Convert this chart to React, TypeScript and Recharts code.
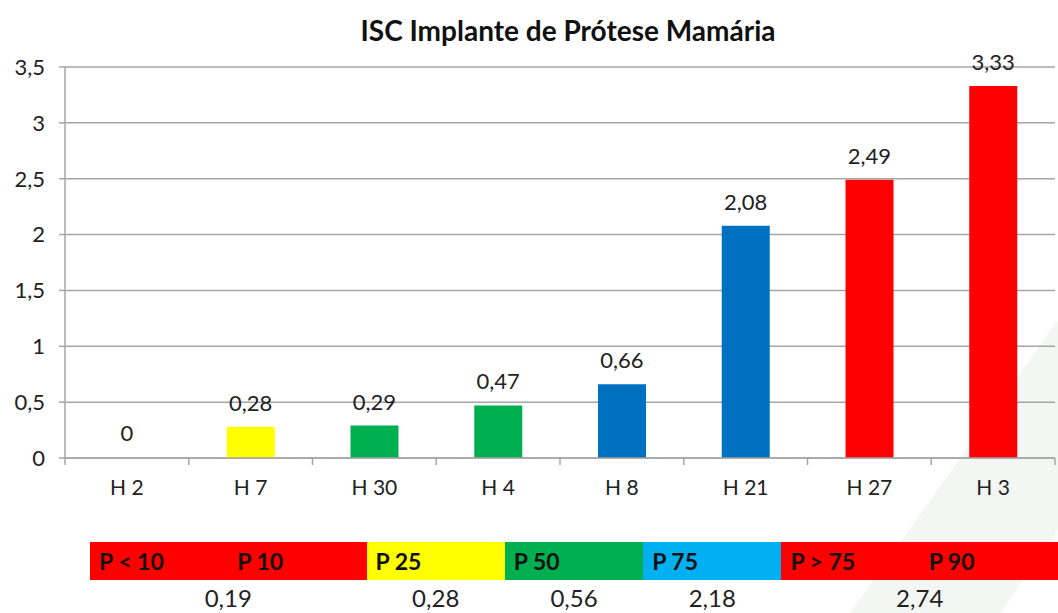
import { Bar, BarChart, CartesianGrid, Cell, LabelList, XAxis, YAxis } from "recharts";

const hospitals = ["H 2", "H 7", "H 30", "H 4", "H 8", "H 21", "H 27", "H 3"];
const rates = [0, 0.28, 0.29, 0.47, 0.66, 2.08, 2.49, 3.33];
const barColors = ["transparent", "#FFFF00", "#00B050", "#00B050", "#0070C0", "#0070C0", "#FF0000", "#FF0000"];
const yTicks = [0, 0.5, 1, 1.5, 2, 2.5, 3, 3.5];
const edgeTicks = [0, 1, 2, 3, 4, 5, 6, 7, 8];

const bandLabels = ["P < 10", "P 10", "P 25", "P 50", "P 75", "P > 75", "P 90"];
const bandColors = ["#FF0000", "#FF0000", "#FFFF00", "#00B050", "#00B0F0", "#FF0000", "#FF0000"];
const percentileKeys = ["P 10", "P 25", "P 50", "P 75", "P 90"];
const percentileValues = [0.19, 0.28, 0.56, 2.18, 2.74];

const FONT = "Lato, 'Open Sans', sans-serif";
const GRID = "#a6a6a6";
const comma = (v: number | string) => String(v).replace(".", ",");

const data = hospitals.map((name, i) => ({ name, rate: rates[i], idx: i + 0.5 }));

const STRIP_LEFT = 90;
const STRIP_W = 1058 - STRIP_LEFT;
const CELL_W = STRIP_W / bandLabels.length;

// value label drawn even for zero-height bars
const ValueLabel = (props: any) => {
  const { x, y, width, value } = props;
  if (x == null || y == null) return null;
  return (
    <text
      x={Number(x) + Number(width) / 2}
      y={Number(y) - 16}
      textAnchor="middle"
      fontSize={22}
      fill="#222"
      fontFamily={FONT}
    >
      {comma(value)}
    </text>
  );
};

export default function App() {
  return (
    <div
      style={{
        position: "absolute",
        left: 0,
        top: 0,
        width: 1058,
        height: 613,
        overflow: "hidden",
        background: "#fff",
        fontFamily: FONT,
      }}
    >
      {/* faint watermark stripes */}
      <svg width={1058} height={613} style={{ position: "absolute", left: 0, top: 0 }}>
        <polygon points="850,613 1058,320 1058,613" fill="#f3f6f3" />
        <polygon points="1000,613 1058,530 1058,613" fill="#ffffff" />
      </svg>

      <div
        style={{
          position: "absolute",
          top: 13,
          left: 0,
          width: 1136,
          textAlign: "center",
          fontSize: 28,
          fontWeight: 700,
          color: "#111",
        }}
      >
        ISC Implante de Prótese Mamária
      </div>

      <div style={{ position: "absolute", left: 0, top: 0 }}>
        <BarChart width={1058} height={520} data={data} margin={{ top: 67, right: 3, left: 0, bottom: 12 }}>
          <CartesianGrid horizontal vertical={false} stroke={GRID} strokeWidth={1.5} />
          <YAxis
            domain={[0, 3.5]}
            ticks={yTicks}
            width={65}
            tickFormatter={comma}
            tick={{ fontSize: 22, fill: "#222", fontFamily: FONT }}
            stroke={GRID}
            strokeWidth={1.5}
            tickSize={6}
            tickMargin={14}
            interval={0}
          />
          <XAxis
            xAxisId="edges"
            type="number"
            dataKey="idx"
            domain={[0, 8]}
            ticks={edgeTicks}
            interval={0}
            tick={() => <g />}
            tickLine={{ stroke: GRID, strokeWidth: 1.5 }}
            tickSize={7}
            height={10}
            stroke={GRID}
            strokeWidth={1.5}
          />
          <XAxis
            xAxisId="labels"
            dataKey="name"
            height={40}
            axisLine={false}
            tickLine={false}
            tickSize={0}
            tickMargin={12}
            interval={0}
            tick={{ fontSize: 21, fill: "#222", fontFamily: FONT }}
          />
          <Bar dataKey="rate" xAxisId="labels" barSize={48} minPointSize={1} isAnimationActive={false}>
            {data.map((d, i) => (
              <Cell key={d.name} fill={barColors[i]} />
            ))}
            <LabelList dataKey="rate" content={ValueLabel} />
          </Bar>
        </BarChart>
      </div>

      <div style={{ position: "absolute", left: STRIP_LEFT, top: 542, width: STRIP_W, height: 38, display: "flex" }}>
        {bandLabels.map((b, i) => (
          <div
            key={b}
            style={{
              width: CELL_W,
              height: 38,
              background: bandColors[i],
              fontSize: 23,
              fontWeight: 700,
              color: "#111",
              lineHeight: "38px",
              paddingLeft: 9,
              boxSizing: "border-box",
            }}
          >
            {b}
          </div>
        ))}
      </div>

      {percentileKeys.map((k, i) => {
        const cell = bandLabels.indexOf(k);
        const atEdge = k === "P 10" || k === "P 90";
        const cx = STRIP_LEFT + CELL_W * (cell + (atEdge ? 0 : 0.5));
        return (
          <div
            key={k}
            style={{
              position: "absolute",
              left: cx - 50,
              width: 100,
              top: 583,
              textAlign: "center",
              fontSize: 24,
              color: "#222",
            }}
          >
            {comma(percentileValues[i])}
          </div>
        );
      })}
    </div>
  );
}
